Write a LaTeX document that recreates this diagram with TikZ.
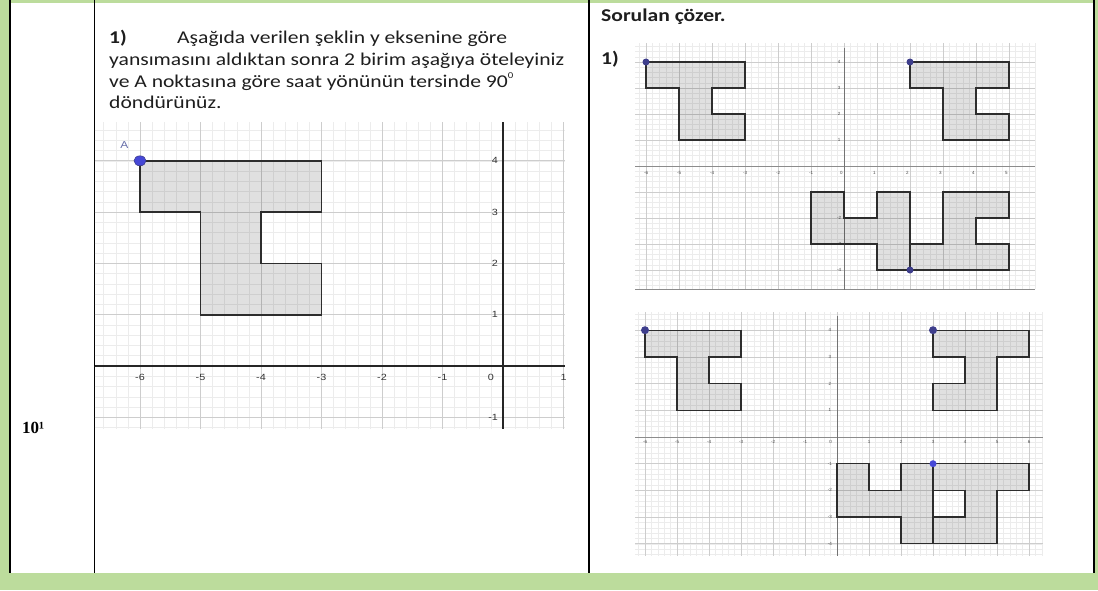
\documentclass[tikz,border=0pt]{standalone}
\usepackage{fontspec}
\setmainfont{Carlito}
\newfontfamily\serifbold{Liberation Serif}
\newfontfamily\labfont{Liberation Sans}
\definecolor{bggreen}{RGB}{188,220,156}
\definecolor{minorgrid}{RGB}{236,236,236}
\definecolor{majorgrid}{RGB}{205,205,205}
\definecolor{shapeedge}{RGB}{45,45,45}
\definecolor{dotblue}{RGB}{70,72,215}
\definecolor{dotnavy}{RGB}{62,62,140}
\definecolor{alabel}{RGB}{105,112,170}
\definecolor{textgray}{RGB}{30,30,30}
\newcommand{\wide}[1]{\scalebox{1.2}[1]{#1}}
\tikzset{
  minorline/.style={draw=minorgrid, line width=0.5pt},
  majorline/.style={draw=majorgrid, line width=0.8pt},
  tshape/.style={fill=black, fill opacity=0.12, draw=shapeedge, line width=1.8pt, line join=miter},
  tshapesmall/.style={fill=black, fill opacity=0.12, draw=shapeedge, line width=1.3pt, line join=miter},
  bigtick/.style={font=\labfont\fontsize{9}{10}\selectfont, text=black!80, inner sep=0pt},
  smalltick/.style={font=\labfont\fontsize{4.5}{5}\selectfont, text=black!70, inner sep=0pt},
  bodytext/.style={font=\fontsize{18}{21}\selectfont, text=textgray, anchor=base west, inner sep=0pt},
  boldtext/.style={font=\bfseries\fontsize{18}{21}\selectfont, text=textgray, anchor=base west, inner sep=0pt},
  frameline/.style={draw=black, line width=1.3pt},
}
\begin{document}
\begin{tikzpicture}[x=1pt,y=-1pt]
\useasboundingbox (0,0) rectangle (1098,590);
% background and table
\fill[bggreen] (0,0) rectangle (1098,590);
\fill[white] (10,3) rectangle (1094,573);
\draw[frameline] (10,0) -- (10,573);
\draw[frameline] (94.5,0) -- (94.5,573);
\draw[frameline] (589,0) -- (589,573);
\draw[frameline] (1094,0) -- (1094,573);

% ---------- left texts ----------
\node[boldtext] (n1) at (109,43.5) {\wide{1)}};
\node[bodytext] (l1) at (177,43.5) {\wide{Aşağıda verilen şeklin y eksenine göre}};
\node[bodytext] (l2) at (109,65.5) {\wide{yansımasını aldıktan sonra 2 birim aşağıya öteleyiniz}};
\node[bodytext] (l3) at (109,87.5) {\wide{ve A noktasına göre saat yönünün tersinde 90\raisebox{1.1ex}{\fontsize{9}{9}\selectfont 0}}};
\node[bodytext] (l4) at (109,108.5) {\wide{döndürünüz.}};
\node[anchor=base west, inner sep=0pt, font=\serifbold\bfseries\fontsize{17}{20}\selectfont] (num) at (22,433) {10¹};

% ---------- left graph ----------
\begin{scope}[shift={(503,366)}, x=60.5pt, y=51.3pt]
  \foreach \i in {-33,...,5} \draw[minorline] (\i/5,-1.22) -- (\i/5,4.76);
  \foreach \j in {-6,...,23} \draw[minorline] (-6.75,\j/5) -- (1.02,\j/5);
  \foreach \i in {-6,...,1} \draw[majorline] (\i,-1.22) -- (\i,4.76);
  \foreach \j in {-1,...,4} \draw[majorline] (-6.75,\j) -- (1.02,\j);
  \draw[black!85, line width=1.3pt] (-6.75,0) -- (1.02,0);
  \draw[black!85, line width=1.3pt] (0,-1.22) -- (0,4.76);
  \foreach \i in {-6,...,-1} \node[bigtick] (lx\i) at (\i,-0.22) {\wide{\i}};
  \node[bigtick] (lx0) at (-0.2,-0.22) {\wide{0}};
  \node[bigtick] (lx1) at (1.0,-0.22) {\wide{1}};
  \foreach \j in {1,...,4} \node[bigtick, anchor=east] (ly\j) at (-0.08,\j) {\wide{\j}};
  \node[bigtick, anchor=east] (lym1) at (-0.08,-1) {\wide{-1}};
  \filldraw[tshape] (-6,4) -- (-3,4) -- (-3,3) -- (-4,3) -- (-4,2) -- (-3,2) -- (-3,1) -- (-5,1) -- (-5,3) -- (-6,3) -- cycle;
  \fill[dotblue, draw=dotnavy, line width=0.6pt] (-6,4) ellipse (6pt and 5pt);
  \node[font=\labfont\fontsize{10}{11}\selectfont, text=alabel, inner sep=0pt] (A) at (-6.26,4.3) {\wide{A}};
\end{scope}

% ---------- right texts ----------
\node[boldtext] (sol) at (601,21) {\wide{Sorulan çözer.}};
\node[boldtext] (n2) at (601,64) {\wide{1)}};

% ---------- right top graph ----------
\begin{scope}[shift={(844,166)}, x=33pt, y=26pt]
  \foreach \i in {-31,...,29} \draw[minorline] (\i/5,-4.73) -- (\i/5,4.73);
  \foreach \j in {-23,...,23} \draw[minorline] (-6.33,\j/5) -- (5.8,\j/5);
  \foreach \i in {-6,...,5} \draw[majorline] (\i,-4.73) -- (\i,4.73);
  \foreach \j in {-4,...,4} \draw[majorline] (-6.33,\j) -- (5.8,\j);
  \draw[black!45, line width=0.9pt] (-6.33,0) -- (5.8,0);
  \draw[black!45, line width=0.9pt] (-6.33,-4.73) -- (5.8,-4.73);
  \draw[black!55, line width=1pt] (0,-4.76) -- (0,4.55);
  \foreach \i in {-6,...,-1} \node[smalltick] (tx\i) at (\i,-0.25) {\i};
  \foreach \i in {0,...,5} \node[smalltick] (tx\i) at (\i-0.08,-0.25) {\i};
  \foreach \j in {1,...,4} \node[smalltick] (ty\j) at (-0.15,\j) {\j};
  \foreach \j in {-2,-3,-4} \node[smalltick] (ty\j) at (-0.15,\j) {\j};
  \filldraw[tshapesmall] (-6,4) -- (-3,4) -- (-3,3) -- (-4,3) -- (-4,2) -- (-3,2) -- (-3,1) -- (-5,1) -- (-5,3) -- (-6,3) -- cycle;
  \filldraw[tshapesmall] (2,4) -- (5,4) -- (5,3) -- (4,3) -- (4,2) -- (5,2) -- (5,1) -- (3,1) -- (3,3) -- (2,3) -- cycle;
  \filldraw[tshapesmall] (-1,-1) -- (0,-1) -- (0,-2) -- (1,-2) -- (1,-1) -- (2,-1) -- (2,-4) -- (1,-4) -- (1,-3) -- (-1,-3) -- cycle;
  \filldraw[tshapesmall] (2,-4) -- (2,-3) -- (3,-3) -- (3,-1) -- (5,-1) -- (5,-2) -- (4,-2) -- (4,-3) -- (5,-3) -- (5,-4) -- cycle;
  \fill[dotnavy] (-6,4) circle (3.5pt);
  \fill[dotnavy] (2,4) circle (3.5pt);
  \fill[dotnavy] (2,-4) circle (3.5pt);
\end{scope}

% ---------- right bottom graph ----------
\begin{scope}[shift={(837,437)}, x=32pt, y=26.7pt]
  \foreach \i in {-31,...,32} \draw[minorline] (\i/5,-4.45) -- (\i/5,4.68);
  \foreach \j in {-22,...,23} \draw[minorline] (-6.3,\j/5) -- (6.45,\j/5);
  \foreach \i in {-6,...,6} \draw[majorline] (\i,-4.45) -- (\i,4.68);
  \foreach \j in {-4,...,4} \draw[majorline] (-6.3,\j) -- (6.45,\j);
  \draw[black!45, line width=0.9pt] (-6.3,0) -- (6.45,0);
  \draw[black!55, line width=1pt] (0,-4.45) -- (0,4.55);
  \foreach \i in {-6,...,-1} \node[smalltick] (bx\i) at (\i,-0.19) {\i};
  \node[smalltick] (bx0) at (-0.2,-0.19) {0};
  \foreach \i in {1,...,6} \node[smalltick] (bx\i) at (\i,-0.19) {\i};
  \foreach \j in {1,...,4} \node[smalltick] (by\j) at (-0.22,\j) {\j};
  \foreach \j in {-1,-2,-3,-4} \node[smalltick] (by\j) at (-0.22,\j) {\j};
  \filldraw[tshapesmall] (-6,4) -- (-3,4) -- (-3,3) -- (-4,3) -- (-4,2) -- (-3,2) -- (-3,1) -- (-5,1) -- (-5,3) -- (-6,3) -- cycle;
  \filldraw[tshapesmall] (3,4) -- (6,4) -- (6,3) -- (5,3) -- (5,1) -- (3,1) -- (3,2) -- (4,2) -- (4,3) -- (3,3) -- cycle;
  \filldraw[tshapesmall] (0,-1) -- (1,-1) -- (1,-2) -- (2,-2) -- (2,-1) -- (3,-1) -- (3,-4) -- (2,-4) -- (2,-3) -- (0,-3) -- cycle;
  \filldraw[tshapesmall] (3,-1) -- (6,-1) -- (6,-2) -- (5,-2) -- (5,-4) -- (3,-4) -- (3,-3) -- (4,-3) -- (4,-2) -- (3,-2) -- cycle;
  \fill[dotnavy] (-6,4) circle (4pt);
  \fill[dotnavy] (3,4) circle (4pt);
  \fill[dotblue] (3,-1) circle (3.5pt);
\end{scope}
\end{tikzpicture}
\end{document}
